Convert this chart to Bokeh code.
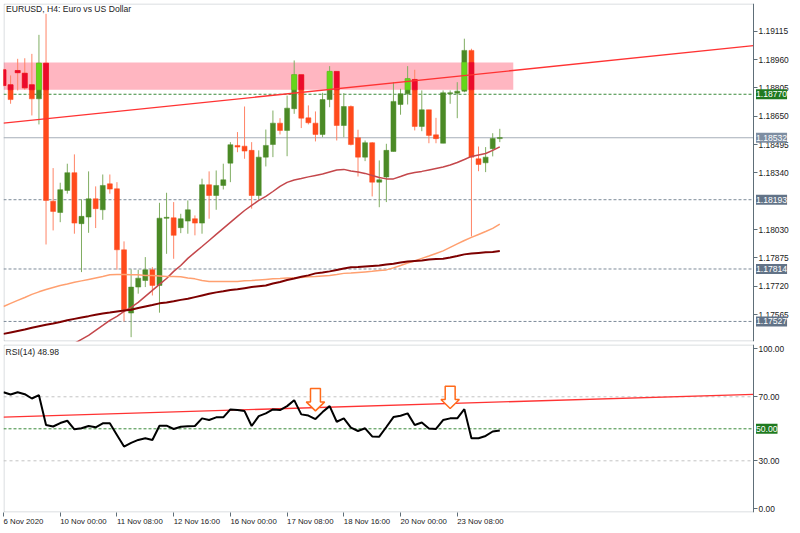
from bokeh.plotting import figure
from bokeh.layouts import column
from bokeh.models import (Range1d, FixedTicker, PrintfTickFormatter, Label, LinearAxis,
                          BoxAnnotation, ColumnDataSource)
from bokeh.embed import file_html
from bokeh.resources import INLINE

# ---------------- data ----------------
title_text = "EURUSD, H4:  Euro vs US Dollar"
time_ticks = [0, 8, 16, 24, 32, 40, 48, 56, 64]
time_labels = ["6 Nov 2020", "10 Nov 00:00", "11 Nov 08:00", "12 Nov 16:00", "16 Nov 00:00",
               "17 Nov 08:00", "18 Nov 16:00", "20 Nov 00:00", "23 Nov 08:00"]

open_ = [1.18904, 1.18822, 1.18900, 1.18885, 1.18822, 1.18745, 1.18940, 1.18185, 1.18123, 1.18244,
         1.18341, 1.18062, 1.18098, 1.18198, 1.18138, 1.18280, 1.18253, 1.17919, 1.17573, 1.17715,
         1.17751, 1.17810, 1.17724, 1.18092, 1.18094, 1.18040, 1.18076, 1.18089, 1.18065, 1.18275,
         1.18216, 1.18271, 1.18393, 1.18490, 1.18486, 1.18463, 1.18216, 1.18426, 1.18495, 1.18612,
         1.18572, 1.18691, 1.18877, 1.18641, 1.18612, 1.18550, 1.18741, 1.18895, 1.18599, 1.18703,
         1.18532, 1.18426, 1.18505, 1.18289, 1.18317, 1.18457, 1.18714, 1.18773, 1.18851, 1.18594,
         1.18685, 1.18548, 1.18502, 1.18773, 1.18776, 1.18787, 1.19010, 1.18417, 1.18395, 1.18472,
         1.18528]
high = [1.18909, 1.18873, 1.18964, 1.18967, 1.18991, 1.19095, 1.19210, 1.18366, 1.18286, 1.18390,
        1.18441, 1.18195, 1.18348, 1.18266, 1.18331, 1.18331, 1.18289, 1.17965, 1.17812, 1.17810,
        1.17879, 1.17824, 1.18176, 1.18231, 1.18180, 1.18116, 1.18189, 1.18107, 1.18308, 1.18348,
        1.18353, 1.18390, 1.18508, 1.18563, 1.18703, 1.18508, 1.18463, 1.18577, 1.18681, 1.18639,
        1.18763, 1.18955, 1.18877, 1.18709, 1.18676, 1.18778, 1.18924, 1.18895, 1.18776, 1.18709,
        1.18576, 1.18517, 1.18508, 1.18408, 1.18499, 1.18836, 1.18800, 1.18924, 1.18904, 1.18791,
        1.18685, 1.18641, 1.18791, 1.18791, 1.18836, 1.19074, 1.19019, 1.18484, 1.18481, 1.18557,
        1.18581]
low = [1.18813, 1.18718, 1.18791, 1.18795, 1.18654, 1.18605, 1.17948, 1.18025, 1.18070, 1.18226,
       1.18007, 1.17797, 1.18012, 1.18038, 1.18083, 1.18226, 1.17810, 1.17527, 1.17441, 1.17679,
       1.17715, 1.17669, 1.17575, 1.17897, 1.17870, 1.18010, 1.18007, 1.17998, 1.18007, 1.18089,
       1.18138, 1.18249, 1.18289, 1.18453, 1.18417, 1.18144, 1.18193, 1.18375, 1.18426, 1.18550,
       1.18431, 1.18663, 1.18585, 1.18605, 1.18512, 1.18535, 1.18699, 1.18517, 1.18535, 1.18490,
       1.18320, 1.18404, 1.18211, 1.18152, 1.18180, 1.18457, 1.18658, 1.18714, 1.18572, 1.18568,
       1.18502, 1.18502, 1.18502, 1.18718, 1.18639, 1.18781, 1.17992, 1.18349, 1.18344, 1.18430,
       1.18508]
close = [1.18818, 1.18741, 1.18888, 1.18805, 1.18745, 1.18940, 1.18189, 1.18129, 1.18248, 1.18341,
         1.18065, 1.18102, 1.18198, 1.18144, 1.18271, 1.18251, 1.17919, 1.17591, 1.17715, 1.17764,
         1.17810, 1.17724, 1.18092, 1.18096, 1.17998, 1.18089, 1.18138, 1.18065, 1.18275, 1.18216,
         1.18271, 1.18302, 1.18494, 1.18481, 1.18459, 1.18216, 1.18426, 1.18490, 1.18612, 1.18572,
         1.18694, 1.18877, 1.18639, 1.18614, 1.18550, 1.18741, 1.18895, 1.18599, 1.18703, 1.18495,
         1.18426, 1.18505, 1.18289, 1.18302, 1.18463, 1.18731, 1.18773, 1.18855, 1.18594, 1.18685,
         1.18545, 1.18527, 1.18778, 1.18778, 1.18787, 1.19010, 1.18426, 1.18386, 1.18426, 1.18528,
         1.18532]

ma_fast_start = 10
ma_fast = [1.17407, 1.17429, 1.17451, 1.17478, 1.17505, 1.17533, 1.17555, 1.17582, 1.17604, 1.17631,
           1.17664, 1.17697, 1.17730, 1.17762, 1.17801, 1.17833, 1.17872, 1.17905, 1.17937, 1.17970,
           1.18003, 1.18036, 1.18069, 1.18102, 1.18134, 1.18162, 1.18189, 1.18211, 1.18238, 1.18266,
           1.18288, 1.18301, 1.18309, 1.18318, 1.18326, 1.18334, 1.18345, 1.18356, 1.18359, 1.18350,
           1.18345, 1.18337, 1.18326, 1.18315, 1.18307, 1.18307, 1.18320, 1.18334, 1.18342, 1.18348,
           1.18356, 1.18364, 1.18372, 1.18383, 1.18397, 1.18413, 1.18430, 1.18438, 1.18446, 1.18463,
           1.18482]
ma_mid = [1.17609, 1.17626, 1.17642, 1.17658, 1.17675, 1.17689, 1.17702, 1.17713, 1.17724, 1.17732,
          1.17741, 1.17749, 1.17757, 1.17765, 1.17773, 1.17782, 1.17784, 1.17784, 1.17783, 1.17782,
          1.17779, 1.17779, 1.17776, 1.17773, 1.17773, 1.17771, 1.17765, 1.17760, 1.17751, 1.17746,
          1.17746, 1.17746, 1.17746, 1.17746, 1.17749, 1.17751, 1.17754, 1.17757, 1.17760, 1.17762,
          1.17765, 1.17766, 1.17768, 1.17771, 1.17773, 1.17776, 1.17779, 1.17784, 1.17790, 1.17792,
          1.17795, 1.17798, 1.17801, 1.17806, 1.17809, 1.17820, 1.17833, 1.17847, 1.17858, 1.17872,
          1.17885, 1.17899, 1.17913, 1.17932, 1.17951, 1.17970, 1.17987, 1.18003, 1.18019, 1.18036,
          1.18060]
ma_slow = [1.17459, 1.17467, 1.17475, 1.17483, 1.17493, 1.17501, 1.17509, 1.17516, 1.17524, 1.17533,
           1.17541, 1.17549, 1.17556, 1.17564, 1.17571, 1.17576, 1.17582, 1.17587, 1.17591, 1.17601,
           1.17609, 1.17617, 1.17626, 1.17631, 1.17637, 1.17645, 1.17651, 1.17660, 1.17669, 1.17678,
           1.17686, 1.17692, 1.17699, 1.17703, 1.17709, 1.17715, 1.17720, 1.17724, 1.17735, 1.17743,
           1.17754, 1.17762, 1.17771, 1.17779, 1.17790, 1.17795, 1.17801, 1.17809, 1.17817, 1.17823,
           1.17825, 1.17828, 1.17831, 1.17833, 1.17839, 1.17843, 1.17850, 1.17855, 1.17858, 1.17861,
           1.17866, 1.17869, 1.17870, 1.17877, 1.17885, 1.17894, 1.17899, 1.17902, 1.17905, 1.17907,
           1.17912]

rsi = [72.86, 71.43, 72.86, 71.61, 68.94, 70.99, 52.36, 51.43, 53.60, 55.03,
       49.69, 50.31, 51.74, 50.93, 53.42, 53.42, 46.15, 38.88, 41.18, 43.04,
       44.10, 43.04, 51.93, 51.93, 49.88, 51.30, 51.55, 51.74, 56.52, 55.47,
       57.14, 57.14, 62.11, 61.68, 61.06, 51.74, 57.95, 59.63, 62.11, 61.68,
       64.16, 67.89, 59.01, 58.26, 56.09, 60.43, 64.16, 54.41, 56.52, 50.68,
       48.63, 50.31, 45.22, 45.09, 51.12, 57.33, 58.14, 59.63, 52.36, 53.91,
       50.19, 49.88, 55.47, 56.52, 56.52, 62.30, 44.10, 44.10, 45.53, 48.32,
       48.98]

price_ticks = [1.17565, 1.17720, 1.17875, 1.18030, 1.18340, 1.18495, 1.18650, 1.18805, 1.18960, 1.19115]
rsi_ticks = [0, 30, 70, 100]

zone_top = 1.18944
zone_bottom = 1.18794
zone_end_bar = 71.9
resistance_level = 1.18770
bid_level = 1.18532
support_levels = [1.18193, 1.17814, 1.17527]
trend_bars = [0, 106]
trend_prices = [1.18612, 1.19037]
rsi_levels = [30, 70]
rsi_mid = 50
rsi_trend_bars = [0, 106]
rsi_trend_values = [57.3, 71.6]
arrow_bars = [44, 63]
arrow_tops = [75.2, 76.6]
arrow_tips = [61.2, 62.7]

# ---------------- geometry (pixel calibration) ----------------
FRAME_L, FRAME_R, CANVAS_R = 3, 753, 800
BAR0_X, BAR_PX = 3.0, 7.09


def bar_at(px):
    return (px - BAR0_X) / BAR_PX


def price_at(py):
    return 1.19115 + (30.7 - py) * (1.19115 - 1.17565) / (314.0 - 30.7)


def rsi_at(py):
    return (509.3 - py) / 1.61


EDGE = bar_at(FRAME_R)


def clip_right(xs, ys):
    (x0, x1), (y0, y1) = xs, ys
    if x1 > EDGE:
        y1 = y0 + (y1 - y0) * (EDGE - x0) / (x1 - x0)
        x1 = EDGE
    return [x0, x1], [y0, y1]


FONT = "Liberation Sans"
TEXT = "#222222"
FRAME = "#5e6e78"
BULL_BODY, BULL_WICK = "#4b8a26", "#80ad62"
BEAR_BODY, BEAR_WICK = "#ff4a1c", "#ff8466"
BULL_ZONE, BEAR_ZONE = "#66d61a", "#eb0a2c"

xr = Range1d(bar_at(FRAME_L), bar_at(CANVAS_R))


def style_axis(a):
    a.major_tick_out = 4
    a.major_tick_in = 0
    a.minor_tick_line_color = None
    a.axis_line_color = FRAME
    a.major_tick_line_color = FRAME
    a.major_label_text_font = FONT
    a.major_label_text_font_size = "8.4px"
    a.major_label_text_color = TEXT
    a.major_label_standoff = 1


def box_label(x, y, text, color):
    return Label(x=x, y=y, text=text, text_font=FONT, text_font_size="8.6px",
                 text_color="white", text_baseline="middle", text_align="left",
                 background_fill_color=color, background_fill_alpha=1.0, padding=(0, 2))


def hline(fig, level, color, dash="solid", width=1.0):
    fig.line([xr.start, EDGE], [level, level], line_color=color, line_dash=dash, line_width=width)


# ---------------- main price panel ----------------
p = figure(width=800, height=342, x_range=xr, y_range=Range1d(price_at(341), price_at(3)),
           x_axis_location=None, y_axis_location=None, toolbar_location=None,
           output_backend="svg", min_border_left=3, min_border_right=0,
           min_border_top=3, min_border_bottom=1)
p.xgrid.visible = False
p.ygrid.visible = False
p.outline_line_color = None
p.background_fill_color = "white"
p.border_fill_color = "white"

ax = LinearAxis(fixed_location=EDGE, ticker=FixedTicker(ticks=price_ticks),
                formatter=PrintfTickFormatter(format="%.5f"))
style_axis(ax)
p.add_layout(ax, "right")

p.add_layout(BoxAnnotation(left=xr.start, right=zone_end_bar, bottom=zone_bottom, top=zone_top,
                           fill_color="#ffb6c1", fill_alpha=1.0, line_color=None, level="underlay"))
p.add_layout(BoxAnnotation(left=bar_at(FRAME_L + 0.5), right=EDGE, top=price_at(3.5), bottom=price_at(340.5),
                           fill_alpha=0, line_color=FRAME, line_width=1, level="underlay"))

hline(p, resistance_level, "#3a8a3a", "3 2")
hline(p, bid_level, "#a6aeb8", "solid", 1.2)
for lv in support_levels:
    hline(p, lv, "#7d8b99", "3 2")

n = len(close)
px_price = price_at(0) - price_at(1)
bars = list(range(n))
btop, bbot, bcol, wcol = [], [], [], []
for o, c in zip(open_, close):
    t, b = max(o, c), min(o, c)
    if t - b < px_price:
        m = (t + b) / 2
        t, b = m + px_price / 2, m - px_price / 2
    btop.append(t)
    bbot.append(b)
    up = c >= o
    bcol.append(BULL_BODY if up else BEAR_BODY)
    wcol.append(BULL_WICK if up else BEAR_WICK)

src = ColumnDataSource(dict(x=bars, high=high, low=low, top=btop, bottom=bbot, bc=bcol, wc=wcol))
p.segment(x0="x", y0="low", x1="x", y1="high", color="wc", line_width=1, source=src)
p.vbar(x="x", width=0.7, top="top", bottom="bottom", fill_color="bc", line_color="bc",
       line_width=0.5, source=src)

zx, zt, zb, zc = [], [], [], []
for i in range(n):
    t = min(btop[i], zone_top)
    b = max(bbot[i], zone_bottom)
    if t > b and i <= zone_end_bar:
        zx.append(i)
        zt.append(t)
        zb.append(b)
        zc.append(BULL_ZONE if close[i] >= open_[i] else BEAR_ZONE)
p.vbar(x=zx, width=0.7, top=zt, bottom=zb, fill_color=zc, line_color=zc, line_width=0.5)

p.line(list(range(ma_fast_start, ma_fast_start + len(ma_fast))), ma_fast, line_color="#c4474b", line_width=1.5)
p.line(bars, ma_mid, line_color="#ffa070", line_width=1.5)
p.line(bars, ma_slow, line_color="#7d0000", line_width=2)
tx, ty = clip_right(trend_bars, trend_prices)
p.line(tx, ty, line_color="#ff3333", line_width=1.3)

p.add_layout(Label(x=bar_at(5.5), y=price_at(3.0), text=title_text, text_font=FONT,
                   text_font_size="8.6px", text_color=TEXT, text_baseline="top", text_align="left"))

box_specs = [(resistance_level, "#1f7a1f"), (bid_level, "#7e8ea2")] + [(lv, "#627387") for lv in support_levels]
for lv, col in box_specs:
    p.add_layout(box_label(bar_at(755.5), lv, f"{lv:.5f}", col))

# ---------------- RSI panel ----------------
r = figure(width=800, height=191, x_range=xr, y_range=Range1d(rsi_at(513), rsi_at(344)),
           x_axis_location="below", y_axis_location=None, toolbar_location=None,
           output_backend="svg", min_border_left=3, min_border_right=0,
           min_border_top=2, min_border_bottom=20)
r.xgrid.visible = False
r.ygrid.visible = False
r.outline_line_color = None
r.background_fill_color = "white"
r.border_fill_color = "white"

ay = LinearAxis(fixed_location=EDGE, ticker=FixedTicker(ticks=rsi_ticks),
                formatter=PrintfTickFormatter(format="%.2f"))
style_axis(ay)
r.add_layout(ay, "right")

axx = r.xaxis[0]
axx.ticker = FixedTicker(ticks=time_ticks)
axx.major_label_overrides = {t: lab for t, lab in zip(time_ticks, time_labels)}
style_axis(axx)
axx.axis_line_color = None
axx.major_label_text_font_size = "7.8px"
axx.major_label_orientation = -1e-6
axx.major_label_standoff = 5

r.add_layout(BoxAnnotation(left=bar_at(FRAME_L + 0.5), right=EDGE, top=rsi_at(344.5), bottom=rsi_at(512.5),
                           fill_alpha=0, line_color=FRAME, line_width=1, level="underlay"))
for lv in rsi_levels:
    hline(r, lv, "#c4c4c4", "3 3")
hline(r, rsi_mid, "#3a8a3a", "3 2")

rx, ry = clip_right(rsi_trend_bars, rsi_trend_values)
r.line(rx, ry, line_color="#ff3333", line_width=1.3)
r.line(bars, rsi, line_color="black", line_width=2)

axs, ays = [], []
for b, t, v in zip(arrow_bars, arrow_tops, arrow_tips):
    hs = v + (t - v) * 0.4
    sw, hw = 0.7, 1.3
    axs.append([b - sw, b + sw, b + sw, b + hw, b, b - hw, b - sw])
    ays.append([t, t, hs, hs, v, hs, hs])
r.patches(axs, ays, fill_color="white", line_color="#ff6a1a", line_width=1.5)

r.add_layout(Label(x=bar_at(5.0), y=rsi_at(347.0), text=f"RSI(14) {rsi[-1]:.2f}", text_font=FONT,
                   text_font_size="8.6px", text_color=TEXT, text_baseline="top", text_align="left"))
r.add_layout(box_label(bar_at(755.5), rsi_mid, f"{rsi_mid:.2f}", "#1f7a1f"))

layout = column(p, r, spacing=0)
open("out.html", "w").write(file_html(layout, INLINE, title="EURUSD H4"))
